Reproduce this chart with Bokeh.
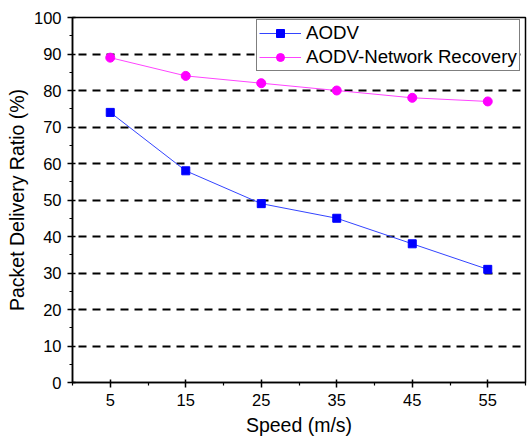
from bokeh.plotting import figure
from bokeh.models import FixedTicker, Range1d, Legend, LegendItem
from bokeh.embed import file_html
from bokeh.resources import INLINE

speed = [5, 15, 25, 35, 45, 55]
aodv = [74, 58, 49, 45, 38, 31]
aodv_nr = [89, 84, 82, 80, 78, 77]
x_major = [5, 15, 25, 35, 45, 55]
x_minor = [0, 10, 20, 30, 40, 50, 60]
y_major = [0, 10, 20, 30, 40, 50, 60, 70, 80, 90, 100]
y_minor = [5, 15, 25, 35, 45, 55, 65, 75, 85, 95]
grid_vals = [10, 20, 30, 40, 50, 60, 70, 80, 90]

FONT = "Liberation Sans"

p = figure(width=528, height=438, output_backend="svg", toolbar_location=None,
           x_range=Range1d(0, 60), y_range=Range1d(0, 100),
           min_border_left=72, min_border_right=3, min_border_top=17, min_border_bottom=56)

p.outline_line_color = "black"
p.outline_line_width = 1.5
p.background_fill_color = "white"
p.border_fill_color = "white"

# grids
p.xgrid.visible = False
p.ygrid.ticker = FixedTicker(ticks=grid_vals)
p.ygrid.grid_line_color = "black"
p.ygrid.grid_line_width = 2
p.ygrid.grid_line_dash = "8 6"
p.ygrid.grid_line_dash_offset = 8

# axes
for ax in (p.xaxis[0], p.yaxis[0]):
    ax.axis_line_color = "black"
    ax.axis_line_width = 1.5
    ax.major_tick_line_color = "black"
    ax.minor_tick_line_color = "black"
    ax.major_tick_line_width = 1.5
    ax.minor_tick_line_width = 1.2
    ax.major_tick_in = 3
    ax.major_tick_out = 5
    ax.minor_tick_in = 0
    ax.minor_tick_out = 3
    ax.major_label_text_font = FONT
    ax.major_label_text_font_size = "16.5px"
    ax.major_label_text_color = "black"
    ax.axis_label_text_font = FONT
    ax.axis_label_text_font_size = "19.5px"
    ax.axis_label_text_font_style = "normal"
    ax.axis_label_text_color = "black"

p.xaxis.ticker = FixedTicker(ticks=x_major, minor_ticks=x_minor)
p.yaxis.ticker = FixedTicker(ticks=y_major, minor_ticks=y_minor)
p.xaxis.axis_label = "Speed (m/s)"
p.yaxis.axis_label = "Packet Delivery Ratio (%)"
p.xaxis.major_label_standoff = 6
p.xaxis.axis_label_standoff = 5
p.yaxis.major_label_standoff = 6
p.yaxis.axis_label_standoff = 3

l1 = p.line(speed, aodv, line_color="#3344ff", line_width=1)
m1 = p.scatter(speed, aodv, marker="square", size=8, fill_color="blue", line_color="blue")
l2 = p.line(speed, aodv_nr, line_color="#ff44ff", line_width=1)
m2 = p.scatter(speed, aodv_nr, marker="circle", size=9, fill_color="magenta", line_color="magenta")

legend = Legend(items=[LegendItem(label="AODV", renderers=[l1, m1]),
                       LegendItem(label="AODV-Network Recovery", renderers=[l2, m2])],
                location=(184, 311))
legend.label_text_font = FONT
legend.label_text_font_size = "18.7px"
legend.label_text_color = "black"
legend.glyph_width = 42
legend.glyph_height = 20
legend.label_height = 20
legend.label_standoff = 5
legend.spacing = 2
legend.padding = 2
legend.margin = 0
legend.border_line_color = "black"
legend.border_line_width = 1
legend.background_fill_alpha = 1
p.add_layout(legend)

open("out.html", "w").write(file_html(p, INLINE))
